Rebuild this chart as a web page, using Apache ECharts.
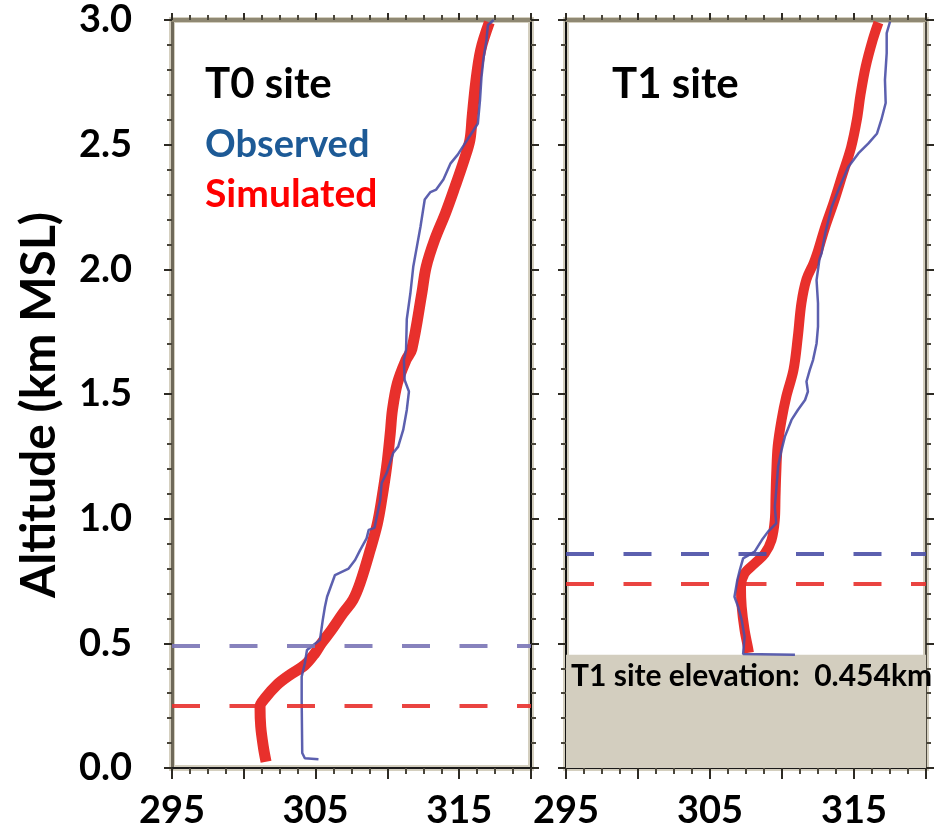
<!DOCTYPE html>
<html><head><meta charset="utf-8">
<script src="https://cdn.jsdelivr.net/npm/echarts@6/dist/echarts.min.js"></script>
<style>html,body{margin:0;padding:0;background:#fff}#c{width:940px;height:835px}</style>
</head><body><div id="c"></div>
<script>
// ---- data (potential temperature K vs altitude km MSL) ----
const xTickLabels = [295, 305, 315];
const yTickLabels = [0.0, 0.5, 1.0, 1.5, 2.0, 2.5, 3.0];

const t0SimTemp = [301.55, 301.36, 301.18, 301.13, 301.48, 302.3, 303.2, 304.25, 304.95, 305.4, 306.1, 306.9, 307.6, 308.1, 308.8, 309.3, 309.6, 309.95, 310.2, 310.35, 310.7, 311.3, 311.7, 312.4, 312.7, 313.3, 314.05, 314.7, 315.35, 315.75, 315.9, 316.15, 316.5, 317.1];
const t0SimAlt  = [0.025, 0.085, 0.166, 0.246, 0.28, 0.333, 0.373, 0.413, 0.46, 0.50, 0.553, 0.62, 0.674, 0.742, 0.874, 0.98, 1.075, 1.21, 1.343, 1.436, 1.544, 1.637, 1.68, 1.905, 2.01, 2.12, 2.226, 2.33, 2.44, 2.52, 2.61, 2.75, 2.88, 2.99];

const t0ObsTemp = [305.2, 304.25, 304.07, 304.03, 304.03, 304.25, 304.4, 304.85, 305.3, 305.5, 305.65, 305.8, 306.35, 307.3, 307.75, 308.1, 308.55, 308.7, 309.1, 309.5, 309.6, 309.95, 310.4, 310.75, 311.1, 311.35, 311.5, 311.2, 311.15, 311.3, 311.35, 311.6, 311.8, 312.05, 312.3, 312.6, 313.0, 313.4, 313.9, 314.4, 314.9, 315.4, 315.85, 316.3, 316.45, 316.55, 316.7, 316.9, 317.0, 317.4];
const t0ObsAlt  = [0.035, 0.039, 0.06, 0.273, 0.366, 0.42, 0.473, 0.493, 0.513, 0.594, 0.647, 0.687, 0.774, 0.80, 0.834, 0.874, 0.921, 0.955, 0.963, 1.075, 1.143, 1.183, 1.263, 1.289, 1.356, 1.436, 1.51, 1.556, 1.637, 1.677, 1.80, 1.904, 2.01, 2.09, 2.17, 2.28, 2.31, 2.32, 2.36, 2.425, 2.46, 2.505, 2.545, 2.585, 2.68, 2.77, 2.85, 2.92, 2.98, 3.0];

const t1SimTemp = [307.7, 307.65, 307.4, 307.2, 307.15, 307.4, 308.1, 308.8, 309.27, 309.5, 309.55, 309.6, 309.7, 309.97, 310.3, 310.8, 311.1, 311.35, 311.7, 312.2, 312.45, 313.0, 313.6, 314.2, 314.8, 315.2, 315.45, 315.8, 316.3, 316.7];
const t1SimAlt  = [0.462, 0.48, 0.554, 0.647, 0.727, 0.78, 0.82, 0.86, 0.914, 0.995, 1.088, 1.18, 1.29, 1.396, 1.49, 1.597, 1.73, 1.865, 1.96, 2.025, 2.065, 2.17, 2.27, 2.38, 2.49, 2.6, 2.70, 2.81, 2.92, 2.99];

const t1ObsTemp = [310.9, 307.3, 307.4, 307.2, 306.95, 306.7, 306.9, 307.07, 307.3, 308.1, 308.6, 309.03, 309.6, 309.5, 309.6, 309.73, 309.97, 310.2, 310.66, 311.1, 311.6, 311.8, 311.7, 311.93, 312.16, 312.4, 312.5, 312.5, 312.4, 312.6, 312.75, 313.0, 313.45, 314.0, 314.6, 315.3, 316.0, 316.6, 316.9, 317.2, 317.15, 317.27, 317.27, 317.5];
const t1ObsAlt  = [0.454, 0.457, 0.527, 0.594, 0.647, 0.687, 0.754, 0.794, 0.841, 0.868, 0.914, 0.948, 0.981, 1.048, 1.115, 1.209, 1.276, 1.329, 1.396, 1.436, 1.476, 1.51, 1.55, 1.597, 1.637, 1.703, 1.77, 1.864, 1.957, 2.04, 2.065, 2.145, 2.25, 2.33, 2.41, 2.465, 2.505, 2.545, 2.6, 2.667, 2.76, 2.867, 2.947, 2.993];

const pblObs = [0.493, 0.861];   // observed PBL height (T0, T1)
const pblSim = [0.246, 0.741];   // simulated PBL height (T0, T1)
const t1Elevation = 0.454;

// ---- helpers ----
const zip = (xs, ys) => xs.map((x, i) => [x, ys[i]]);
const FONT = 'Lato';
const RED = '#e8302c', BLUE = '#4a4fa6';
const TICK = '#2e2b24', MINOR = '#4a463b';

function xAx(grid, top) {
  return {
    type: 'value', gridIndex: grid, position: top ? 'top' : 'bottom',
    min: 295, max: 320, interval: 5,
    axisLine: { show: true, onZero: false, lineStyle: { color: top ? '#8f8873' : '#1a1a1a', width: top ? 4 : 2 } },
    axisTick: { show: true, length: top ? 7 : 11, lineStyle: { color: TICK, width: 2 } },
    minorTick: { show: true, splitNumber: 4, length: top ? 5 : 6, lineStyle: { color: MINOR, width: 2 } },
    axisLabel: {
      show: !top, margin: 24, fontSize: 38, fontWeight: 'bold', color: '#000', fontFamily: FONT,
      formatter: v => xTickLabels.includes(v) ? String(v) : ''
    },
    splitLine: { show: false }
  };
}
function yAx(grid, right, labels, lineColor, lineWidth) {
  return {
    type: 'value', gridIndex: grid, position: right ? 'right' : 'left',
    min: 0, max: 3, interval: 0.5,
    axisLine: { show: true, onZero: false, lineStyle: { color: lineColor, width: lineWidth } },
    axisTick: { show: true, length: 8, lineStyle: { color: TICK, width: 2 } },
    minorTick: { show: true, splitNumber: 5, length: 5, lineStyle: { color: MINOR, width: 2 } },
    axisLabel: {
      show: labels, margin: 40, fontSize: 38, fontWeight: 'bold', color: '#000', fontFamily: FONT,
      formatter: v => yTickLabels.some(t => Math.abs(t - v) < 1e-9) ? v.toFixed(1) : ''
    },
    splitLine: { show: false }
  };
}
function dash(v, color) {
  return {
    symbol: ['none', 'none'], silent: true, animation: false,
    label: { show: false },
    lineStyle: { type: [28, 29.5], width: 4, color: color, opacity: 0.9 },
    data: [{ yAxis: v }]
  };
}

const chart = echarts.init(document.getElementById('c'));
chart.setOption({
  animation: false,
  backgroundColor: '#fff',
  grid: [
    { left: 172, top: 20, width: 359, height: 748, show: true, borderColor: '#d4cfbf', borderWidth: 6 },
    { left: 566, top: 20, width: 360, height: 748, show: true, borderColor: '#d4cfbf', borderWidth: 6 }
  ],
  xAxis: [xAx(0, false), xAx(0, true), xAx(1, false), xAx(1, true)],
  yAxis: [
    yAx(0, false, true, '#6f6959', 3),
    yAx(0, true, false, '#111111', 2),
    yAx(1, false, false, '#111111', 2),
    yAx(1, true, false, '#4e4a40', 2)
  ],
  series: [
    {
      type: 'line', xAxisIndex: 0, yAxisIndex: 0, data: zip(t0SimTemp, t0SimAlt),
      showSymbol: false, smooth: 0.35, z: 3,
      lineStyle: { color: RED, width: 11 },
      markLine: dash(pblSim[0], RED)
    },
    {
      type: 'line', xAxisIndex: 0, yAxisIndex: 0, data: zip(t0ObsTemp, t0ObsAlt),
      showSymbol: false, z: 4,
      lineStyle: { color: BLUE, width: 2.5, opacity: 0.9 },
      markLine: dash(pblObs[0], '#7a74b6')
    },
    {
      type: 'line', xAxisIndex: 2, yAxisIndex: 2, data: [], z: 1,
      markArea: {
        silent: true,
        itemStyle: { color: '#d3cebf', opacity: 1 },
        label: {
          show: true, position: 'insideTopLeft', distance: 5, offset: [0, 2],
          fontSize: 30, fontWeight: 'bold', color: '#000', fontFamily: FONT,
          formatter: () => 'T1 site elevation:  ' + t1Elevation.toFixed(3) + 'km'
        },
        data: [[{ yAxis: 0 }, { yAxis: t1Elevation }]]
      }
    },
    {
      type: 'line', xAxisIndex: 2, yAxisIndex: 2, data: zip(t1SimTemp, t1SimAlt),
      showSymbol: false, smooth: 0.35, z: 3,
      lineStyle: { color: RED, width: 10 },
      markLine: dash(pblSim[1], RED)
    },
    {
      type: 'line', xAxisIndex: 2, yAxisIndex: 2, data: zip(t1ObsTemp, t1ObsAlt),
      showSymbol: false, z: 4,
      lineStyle: { color: BLUE, width: 2.5, opacity: 0.9 },
      markLine: dash(pblObs[1], BLUE)
    }
  ],
  graphic: [
    { type: 'text', x: 40, y: 405, rotation: Math.PI / 2,
      style: { text: 'Altitude (km MSL)', fontSize: 48, fontWeight: 'bold', fill: '#000', fontFamily: FONT, textAlign: 'center', textVerticalAlign: 'middle' } },
    { type: 'text', x: 205, y: 84,
      style: { text: 'T0 site', fontSize: 42, fontWeight: 'bold', fill: '#000', fontFamily: FONT, textAlign: 'left', textVerticalAlign: 'middle' } },
    { type: 'text', x: 205, y: 145,
      style: { text: 'Observed', fontSize: 38, fontWeight: 'bold', fill: '#1d5a96', fontFamily: FONT, textAlign: 'left', textVerticalAlign: 'middle' } },
    { type: 'text', x: 205, y: 194,
      style: { text: 'Simulated', fontSize: 39, fontWeight: 'bold', fill: '#ff0000', fontFamily: FONT, textAlign: 'left', textVerticalAlign: 'middle' } },
    { type: 'text', x: 612, y: 84,
      style: { text: 'T1 site', fontSize: 42, fontWeight: 'bold', fill: '#000', fontFamily: FONT, textAlign: 'left', textVerticalAlign: 'middle' } }
  ]
});
</script></body></html>
